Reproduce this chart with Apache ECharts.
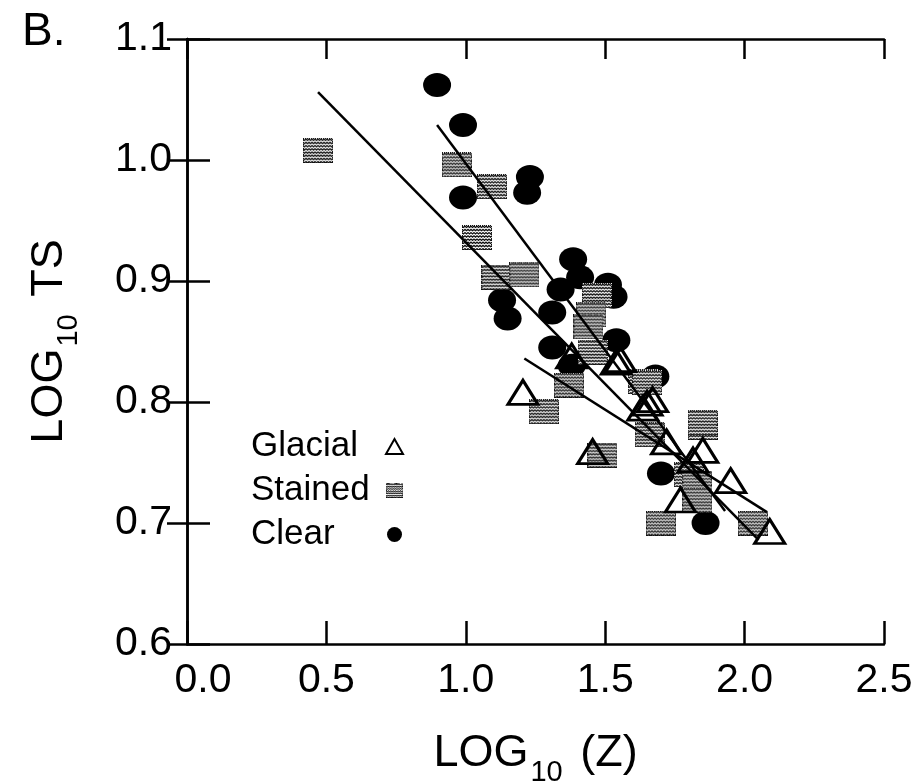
<!DOCTYPE html>
<html>
<head>
<meta charset="utf-8">
<script src="https://cdn.jsdelivr.net/npm/echarts@6/dist/echarts.min.js"></script>
<style>html,body{margin:0;padding:0;background:#fff;}#c{width:919px;height:781px;}</style>
</head>
<body>
<div id="c"></div>
<script>
// ---- data ----
const seriesNames = ['Glacial', 'Stained', 'Clear'];
const glacialX = [1.205, 1.38, 1.54, 1.555, 1.635, 1.67, 1.65, 1.72, 1.85, 1.455, 1.815, 1.95, 1.77, 2.09];
const glacialY = [0.808, 0.838, 0.833, 0.835, 0.795, 0.802, 0.799, 0.767, 0.760, 0.759, 0.752, 0.735, 0.719, 0.693];
const stainedX = [0.47, 0.968, 1.094, 1.04, 1.11, 1.21, 1.47, 1.45, 1.44, 1.455, 1.37, 1.28, 1.635, 1.65, 1.66, 1.85, 1.85, 1.49, 1.80, 1.83, 1.83, 1.70, 2.03];
const stainedY = [1.008, 0.996, 0.978, 0.936, 0.903, 0.905, 0.888, 0.872, 0.862, 0.841, 0.814, 0.792, 0.817, 0.816, 0.773, 0.779, 0.783, 0.756, 0.740, 0.733, 0.719, 0.700, 0.700];
const clearX = [0.897, 0.99, 0.99, 1.23, 1.22, 1.13, 1.15, 1.31, 1.34, 1.385, 1.41, 1.51, 1.53, 1.31, 1.38, 1.54, 1.68, 1.70, 1.86];
const clearY = [1.062, 1.029, 0.969, 0.986, 0.973, 0.884, 0.869, 0.874, 0.893, 0.918, 0.903, 0.897, 0.887, 0.845, 0.830, 0.851, 0.821, 0.741, 0.700];
// regression lines (end points)
const fitStainedX = [0.47, 2.05];
const fitStainedY = [1.056, 0.686];
const fitClearX = [0.897, 1.93];
const fitClearY = [1.029, 0.710];
const fitGlacialX = [1.21, 2.08];
const fitGlacialY = [0.836, 0.709];

function zip(xs, ys) { return xs.map((x, i) => [x, ys[i]]); }

// textured square symbol for "Stained"
function texturedSquare(w, h) {
  const c = document.createElement('canvas');
  c.width = w; c.height = h;
  const g = c.getContext('2d');
  g.fillStyle = '#ffffff'; g.fillRect(0, 0, w, h);
  g.strokeStyle = '#111111'; g.lineWidth = 1.3;
  for (let y = 1.5; y < h; y += 3.2) {
    g.beginPath();
    for (let x = 0; x <= w; x += 1.5) {
      const yy = y + ((Math.floor(x / 1.5) % 2) ? 1 : -0.3);
      if (x === 0) g.moveTo(x, yy); else g.lineTo(x, yy);
    }
    g.stroke();
  }
  g.fillStyle = '#111';
  for (let x = 0; x < w; x += 2) { g.fillRect(x, 0, 1, 1); g.fillRect(x + 1, h - 1, 1, 1); }
  for (let y = 0; y < h; y += 2) { g.fillRect(0, y, 1, 1); g.fillRect(w - 1, y + 1, 1, 1); }
  return 'image://' + c.toDataURL('image/png');
}
const stainedSymbol = texturedSquare(30, 25);

const FONT = 'Liberation Sans, Arial, sans-serif';
const chart = echarts.init(document.getElementById('c'), null, { renderer: 'canvas' });

const axisLineStyle = { color: '#000', width: 2.5 };
const tickStyle = { show: true, inside: true, length: 23, lineStyle: { color: '#000', width: 2.5 } };
const richTitle = {
  a: { fontFamily: FONT, fontSize: 45, color: '#000', lineHeight: 54, verticalAlign: 'bottom' },
  s: { fontFamily: FONT, fontSize: 29, color: '#000', lineHeight: 54, verticalAlign: 'bottom', padding: [0, 5, -11, 2] }
};

chart.setOption({
  animation: false,
  backgroundColor: '#fff',
  grid: { left: 187, right: 35, top: 39, bottom: 137, containLabel: false, outerBoundsMode: 'none' },
  graphic: [
    { type: 'text', left: 22, top: 9, style: { text: 'B.', font: '46px ' + FONT, fill: '#000' } }
  ],
  legend: {
    orient: 'vertical',
    left: 246, top: 424,
    align: 'right',
    itemGap: 9,
    itemWidth: 17, itemHeight: 15,
    data: seriesNames,
    formatter: name => '{t|' + name + '}',
    textStyle: {
      color: '#000',
      rich: { t: { fontFamily: FONT, fontSize: 35, color: '#000', width: 130, align: 'left', lineHeight: 34 } }
    }
  },
  xAxis: [{
    type: 'value', min: 0, max: 2.5, interval: 0.5,
    name: '{a|LOG}{s|10}{a| (Z)}',
    nameLocation: 'middle', nameGap: 78,
    nameTextStyle: { rich: richTitle },
    axisLine: { show: true, lineStyle: axisLineStyle },
    axisTick: tickStyle,
    splitLine: { show: false },
    axisLabel: {
      fontFamily: FONT, fontSize: 41, color: '#000', margin: 16,
      formatter: v => v === 0 ? '{z|' + v.toFixed(1) + '}' : v.toFixed(1),
      rich: { z: { fontFamily: FONT, fontSize: 41, color: '#000', padding: [0, 0, 0, 32] } }
    }
  }, {
    type: 'value', min: 0, max: 2.5, interval: 0.5, position: 'top',
    axisLine: { show: true, lineStyle: axisLineStyle },
    axisTick: { show: true, inside: true, length: 20, lineStyle: { color: '#000', width: 2.5 } },
    axisLabel: { show: false }, splitLine: { show: false }
  }],
  yAxis: [{
    type: 'value', min: 0.6, max: 1.1, interval: 0.1,
    name: '{a|LOG}{s|10}{a| TS}',
    nameLocation: 'middle', nameGap: 115, nameRotate: 90,
    nameTextStyle: { rich: richTitle },
    axisLine: { show: true, lineStyle: axisLineStyle },
    axisTick: tickStyle,
    splitLine: { show: false },
    axisLabel: { fontFamily: FONT, fontSize: 41, color: '#000', margin: 15, formatter: v => v.toFixed(1) }
  }, {
    type: 'value', min: 0.6, max: 1.1, interval: 0.1, position: 'right',
    axisLine: { show: true, lineStyle: axisLineStyle },
    axisTick: { show: true, inside: true, length: 20, lineStyle: { color: '#000', width: 2.5 } },
    axisLabel: { show: false }, splitLine: { show: false }
  }],
  series: [
    {
      name: 'Clear', type: 'scatter', symbol: 'circle', symbolSize: [28, 24], z: 2,
      itemStyle: { color: '#000', opacity: 1 },
      data: zip(clearX, clearY)
    },
    {
      name: 'Stained', type: 'scatter', symbol: stainedSymbol, symbolSize: [30, 25], z: 3,
      itemStyle: { color: '#888', opacity: 1 },
      data: zip(stainedX, stainedY)
    },
    {
      name: 'Glacial', type: 'scatter', symbol: 'triangle', symbolSize: [30, 24], z: 4,
      itemStyle: { color: 'rgba(255,255,255,0)', borderColor: '#000', borderWidth: 3, opacity: 1 },
      data: zip(glacialX, glacialY)
    },
    { type: 'line', symbol: 'none', z: 5, silent: true, lineStyle: { color: '#000', width: 2.5 }, data: zip(fitStainedX, fitStainedY) },
    { type: 'line', symbol: 'none', z: 5, silent: true, lineStyle: { color: '#000', width: 2.5 }, data: zip(fitClearX, fitClearY) },
    { type: 'line', symbol: 'none', z: 5, silent: true, lineStyle: { color: '#000', width: 2.5 }, data: zip(fitGlacialX, fitGlacialY) }
  ]
});
</script>
</body>
</html>
